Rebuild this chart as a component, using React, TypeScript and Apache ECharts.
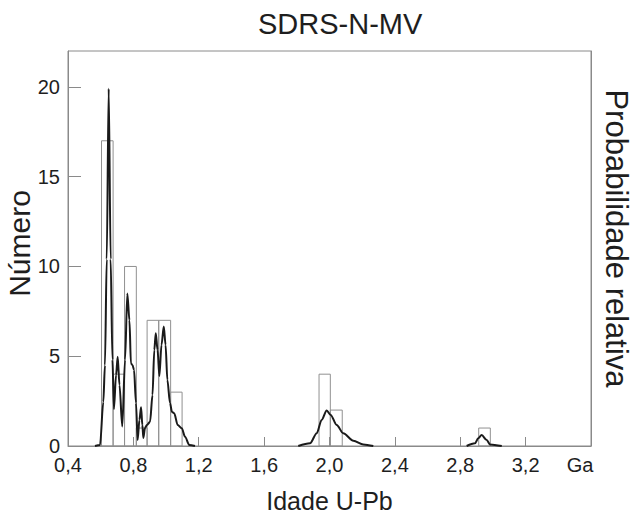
import React, { useEffect, useRef } from "react";
import * as echarts from "echarts";

const title = "SDRS-N-MV";
const xName = "Idade U-Pb";
const yName = "Número";
const y2Name = "Probabilidade relativa";

const xTicks = [0.4, 0.8, 1.2, 1.6, 2.0, 2.4, 2.8, 3.2, 3.6];
const xTickLabels = ["0,4", "0,8", "1,2", "1,6", "2,0", "2,4", "2,8", "3,2", "Ga"];
const yTickLabels = ["0", "5", "10", "15", "20"];

// histogram bins: [start Ga, end Ga, count]
const binStart = [0.605, 0.676, 0.746, 0.818, 0.884, 0.955, 1.028, 1.936, 2.005, 2.913];
const binEnd = [0.676, 0.746, 0.818, 0.884, 0.955, 1.028, 1.098, 2.005, 2.078, 2.984];
const binCount = [17, 4, 10, 1, 7, 7, 3, 4, 2, 1];

// relative probability curve (scaled to count axis)
const curveA: [number, number][] = [
  [0.565, 0], [0.596, 0.05], [0.616, 2.45], [0.626, 4.5], [0.637, 10.4], [0.649, 19.9],
  [0.661, 10.4], [0.672, 4.8], [0.681, 2.06], [0.694, 3.96], [0.704, 4.97], [0.715, 3.4],
  [0.732, 1.08], [0.749, 4.8], [0.763, 8.5], [0.776, 7.0], [0.785, 4.6], [0.795, 4.5],
  [0.804, 4.23], [0.816, 2.4], [0.826, 0.33], [0.837, 1.45], [0.847, 2.16], [0.855, 1.17],
  [0.861, 0.45], [0.871, 1.0], [0.883, 1.17], [0.902, 1.35], [0.917, 2.84], [0.928, 5.35],
  [0.937, 6.28], [0.948, 5.35], [0.959, 3.9], [0.972, 5.63], [0.986, 6.65], [0.997, 5.63],
  [1.008, 3.68], [1.024, 2.4], [1.036, 1.9], [1.05, 1.82], [1.071, 1.17], [1.096, 0.99],
  [1.116, 0.52], [1.142, 0.06], [1.177, 0],
];
const curveB: [number, number][] = [
  [1.809, 0], [1.881, 0.15], [1.922, 0.71], [1.952, 1.45], [1.983, 1.98], [2.007, 1.73],
  [2.044, 1.17], [2.084, 0.71], [2.146, 0.29], [2.207, 0.09], [2.268, 0],
];
const curveC: [number, number][] = [
  [2.839, 0], [2.89, 0.15], [2.91, 0.43], [2.931, 0.61], [2.962, 0.33], [2.982, 0.09], [3.054, 0],
];

const FONT = "'Liberation Sans', Arial, sans-serif";
const GRAY = "#8a8a8a";
const TEXT = "#1e1e1e";

export default function App() {
  const ref = useRef<HTMLDivElement>(null);
  useEffect(() => {
    document.body.style.margin = "0";
    if (!ref.current) return;
    const chart = echarts.init(ref.current, null, { renderer: "svg" });
    const bins = binStart.map((s, i) => [s, binEnd[i], binCount[i]]);
    const curveSeries = [curveA, curveB, curveC].map((c) => ({
      type: "line",
      data: c,
      showSymbol: false,
      smooth: 0.3,
      smoothMonotone: "x",
      lineStyle: { color: "#1a1a1a", width: 2 },
      z: 3,
    }));
    chart.setOption({
      animation: false,
      backgroundColor: "#ffffff",
      textStyle: { fontFamily: FONT },
      title: {
        text: title,
        left: 253,
        top: 4,
        textStyle: { fontSize: 29, fontWeight: "normal", color: TEXT, fontFamily: FONT },
      },
      grid: {
        left: 68,
        right: 42,
        top: 51,
        bottom: 67,
        outerBoundsMode: "none",
        containLabel: false,
        show: true,
        borderColor: GRAY,
        borderWidth: 1,
      },
      xAxis: {
        type: "value",
        min: 0.4,
        max: 3.6,
        interval: 0.4,
        name: xName,
        nameLocation: "middle",
        nameGap: 42,
        nameMoveOverlap: false,
        nameTextStyle: { fontSize: 25, color: TEXT, fontFamily: FONT },
        axisLine: { show: true, lineStyle: { color: GRAY } },
        axisTick: { show: true, inside: true, length: 9, lineStyle: { color: GRAY } },
        splitLine: { show: false },
        axisLabel: {
          fontSize: 20,
          color: TEXT,
          margin: 9,
          showMinLabel: true,
          showMaxLabel: true,
          formatter: (v: number) => {
            const i = xTicks.findIndex((t) => Math.abs(t - v) < 1e-6);
            if (i < 0) return "";
            return i === xTicks.length - 1 ? "{ga|" + xTickLabels[i] + "}" : xTickLabels[i];
          },
          rich: { ga: { fontSize: 20, color: TEXT, padding: [0, 22, 0, 0] } },
        },
      },
      yAxis: [
        {
          type: "value",
          min: 0,
          max: 22,
          interval: 5,
          name: yName,
          nameLocation: "middle",
          nameGap: 33,
          nameMoveOverlap: false,
          nameTextStyle: {
            fontSize: 30,
            lineHeight: 32,
            color: TEXT,
            fontFamily: FONT,
            padding: [0, 0, 0, 10],
          },
          axisLine: { show: true, lineStyle: { color: GRAY } },
          axisTick: { show: true, inside: true, length: 13, lineStyle: { color: GRAY } },
          splitLine: { show: false },
          axisLabel: {
            fontSize: 20,
            color: TEXT,
            margin: 8,
            showMaxLabel: false,
            formatter: (v: number) => {
              const i = Math.round(v / 5);
              return v % 5 === 0 && i < yTickLabels.length ? yTickLabels[i] : "";
            },
          },
        },
        {
          type: "value",
          min: 0,
          max: 22,
          interval: 5,
          position: "right",
          name: y2Name,
          nameLocation: "middle",
          nameRotate: -90,
          nameGap: 10,
          nameMoveOverlap: false,
          nameTextStyle: {
            fontSize: 31,
            lineHeight: 30,
            color: TEXT,
            fontFamily: FONT,
            padding: [0, 20, 0, 0],
          },
          axisLine: { show: true, lineStyle: { color: GRAY } },
          axisTick: { show: false },
          axisLabel: { show: false },
          splitLine: { show: false },
        },
      ],
      series: [
        {
          type: "custom",
          data: bins,
          encode: { x: [0, 1], y: 2 },
          z: 2,
          renderItem: (params: any, api: any) => {
            const p0 = api.coord([api.value(0), api.value(2)]);
            const p1 = api.coord([api.value(1), 0]);
            return {
              type: "rect",
              shape: { x: p0[0], y: p0[1], width: p1[0] - p0[0], height: p1[1] - p0[1] },
              style: { fill: "none", stroke: "#909090", lineWidth: 1 },
            };
          },
        },
        ...curveSeries,
      ],
    });
    return () => chart.dispose();
  }, []);
  return <div ref={ref} style={{ width: 633, height: 513 }} />;
}
